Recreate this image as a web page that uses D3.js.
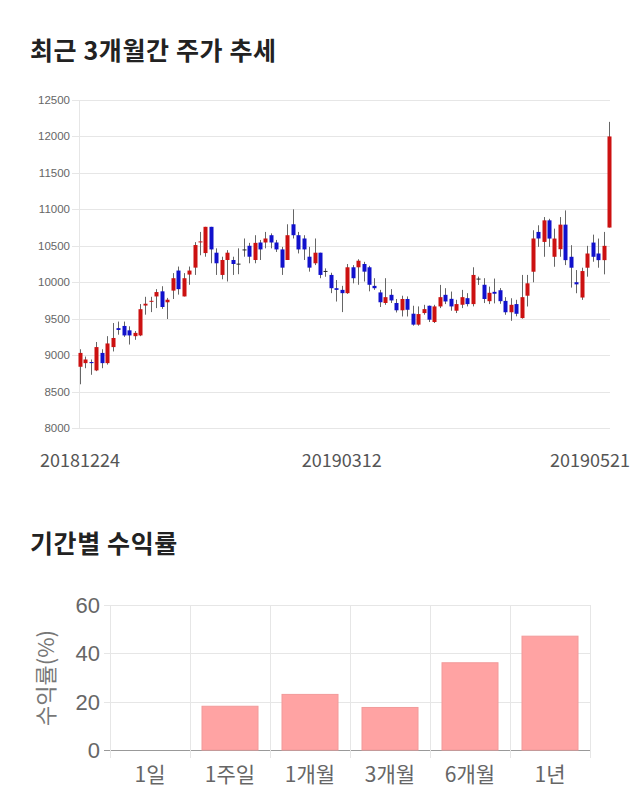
<!DOCTYPE html>
<html><head><meta charset="utf-8">
<script src="https://cdn.jsdelivr.net/npm/d3@7"></script>
<style>
body{margin:0;background:#fff;}
svg{display:block;}
</style></head>
<body>
<svg id="c" width="640" height="810"></svg>
<script>
// ---- data: daily candles (20181224 .. 20190521) ----
const openV  = [8840,8890,8905,8790,9030,8890,9110,9370,9400,9340,9260,9270,9680,9740,9805,9875,9725,9885,10160,9805,
 10105,10200,10555,10400,10760,10405,10100,10305,10305,10255,10450,10500,10305,10545,10545,10645,10545,10450,10305,10795,
 10645,10600,10350,10260,10405,10155,10100,9918,9895,9850,10205,10205,10250,10205,9950,9860,9715,9827,9715,9615,
 9770,9568,9418,9577,9677,9454,9668,9827,9772,9609,9691,9781,9700,10050,9965,9740,9868,9890,9744,9588,
 9700,9508,9815,10144,10690,10553,10849,10349,10453,10790,10349,10000,9790,10199,10544,10394,10303,10750];
const highV  = [9080,8980,8940,9180,9080,9260,9440,9460,9460,9395,9330,9700,9800,9800,9905,9945,9785,10125,10215,10125,
 10215,10550,10690,10760,10760,10465,10350,10440,10350,10465,10600,10540,10645,10580,10690,10670,10580,10485,10795,11000,
 10690,10645,10485,10600,10405,10190,10130,10030,9950,10250,10235,10315,10280,10225,10055,9895,10055,9905,9770,9815,
 9805,9677,9668,9690,9680,9690,9963,9918,9872,9759,9895,9850,10205,10077,10055,9940,10050,9920,9795,9780,
 9759,10100,10100,10713,10781,10894,10870,10735,10894,10985,10508,10167,10199,10499,10653,10599,10690,12200];
const lowV   = [8600,8820,8730,8780,8820,8870,9050,9280,9250,9145,9210,9260,9555,9590,9645,9635,9495,9770,9830,9805,
 9965,10100,10370,10350,10260,10100,10040,10010,10100,10110,10350,10260,10260,10305,10465,10465,10415,10100,10305,10600,
 10395,10305,10145,10235,10055,10075,9850,9735,9590,9840,9985,9965,10010,9875,9895,9660,9690,9715,9585,9530,
 9530,9404,9404,9554,9454,9440,9645,9700,9609,9577,9645,9668,9668,9963,9714,9700,9710,9704,9553,9470,
 9532,9500,9667,9999,10485,10349,10485,10212,10349,10235,9926,9849,9758,10076,10281,10199,10108,10750];
const closeV = [9030,8940,8890,9110,8890,9160,9235,9345,9270,9270,9305,9630,9705,9745,9865,9660,9760,10055,9905,10055,
 10160,10510,10560,10760,10450,10260,10305,10405,10250,10255,10450,10350,10540,10450,10600,10545,10450,10200,10645,10645,
 10450,10450,10200,10405,10100,10155,9918,9895,9850,10205,10055,10295,10145,9965,9918,9725,9795,9750,9615,9770,
 9622,9418,9563,9631,9486,9668,9795,9736,9668,9700,9795,9700,10100,10050,9770,9855,9842,9740,9588,9690,
 9567,9795,9985,10600,10600,10849,10599,10599,10790,10303,10199,9971,10153,10394,10349,10303,10499,12000];
const priceTicks = [8000,8500,9000,9500,10000,10500,11000,11500,12000,12500];
const dateLabels = ["20181224","20190312","20190521"];
const dateLabelIdx = [0,48,97];

// ---- data: period returns ----
const periods = ["1일","1주일","1개월","3개월","6개월","1년"];
const returnsV = [0,18.1,23.0,17.6,36.1,47.1];
const returnTicks = [0,20,40,60];

const svg = d3.select("#c");
const KR = "'Noto Sans CJK KR','Noto Sans',sans-serif";
const AR = "'Liberation Sans',Arial,sans-serif";

// titles
svg.append("text").attr("x",30).attr("y",60).text("최근 3개월간 주가 추세")
  .attr("font-family",KR).attr("font-weight","bold").attr("font-size",25).attr("letter-spacing",0.6).attr("fill","#222");
svg.append("text").attr("x",30).attr("y",553).text("기간별 수익률")
  .attr("font-family",KR).attr("font-weight","bold").attr("font-size",25).attr("letter-spacing",0.6).attr("fill","#222");

// ---- candlestick chart ----
const idx = d3.range(openV.length);
const x = d3.scaleLinear().domain([0, openV.length-1]).range([80, 609]);
const y = d3.scaleLinear().domain([8000,12500]).range([428, 100]);

const g1 = svg.append("g");
g1.selectAll("line.grid").data(priceTicks).join("line")
  .attr("x1",72).attr("x2",610).attr("y1",d=>Math.round(y(d))+0.5).attr("y2",d=>Math.round(y(d))+0.5)
  .attr("stroke","#e6e6e6");
g1.append("line").attr("x1",79.5).attr("x2",79.5).attr("y1",y(12500)).attr("y2",y(8000)).attr("stroke","#e6e6e6");
g1.selectAll("text.yt").data(priceTicks).join("text")
  .attr("x",70).attr("y",d=>y(d)+4).attr("text-anchor","end").text(d=>d)
  .attr("font-family",AR).attr("font-size",11.5).attr("fill","#666");

const col = i => closeV[i]>openV[i] ? "#cc1111" : (closeV[i]<openV[i] ? "#1111cc" : "#222");
g1.selectAll("line.wick").data(idx).join("line")
  .attr("x1",i=>Math.round(x(i))+0.5).attr("x2",i=>Math.round(x(i))+0.5)
  .attr("y1",i=>y(highV[i])).attr("y2",i=>y(lowV[i])).attr("stroke","#666").attr("stroke-width",1);
g1.selectAll("rect.body").data(idx).join("rect")
  .attr("x",i=>Math.round(x(i))-1.5).attr("width",4)
  .attr("y",i=>y(Math.max(openV[i],closeV[i])))
  .attr("height",i=>Math.max(1, Math.abs(y(openV[i])-y(closeV[i]))))
  .attr("fill",i=>col(i));

g1.selectAll("text.xt").data(dateLabels).join("text")
  .attr("y",467).attr("text-anchor","middle").text(d=>d)
  .attr("font-family",KR).attr("font-size",18).attr("fill","#555")
  .attr("x",(d,k)=>x(dateLabelIdx[k]))
  .each(function(){
    const w=this.getComputedTextLength(); const cx=+this.getAttribute("x");
    const nx=Math.min(Math.max(cx, w/2+2), 630-w/2);
    this.setAttribute("x", nx);
  });

// ---- returns bar chart ----
const xb = d3.scaleBand().domain(periods).range([110,590]).paddingInner(0.3).paddingOuter(0.15);
const yb = d3.scaleLinear().domain([0,60]).range([750,605]);
const g2 = svg.append("g");
g2.selectAll("line.hg").data(returnTicks).join("line")
  .attr("x1",104).attr("x2",590).attr("y1",d=>Math.round(yb(d))+0.5).attr("y2",d=>Math.round(yb(d))+0.5)
  .attr("stroke",d=>d===0?"#999":"#e6e6e6");
const bounds = d3.range(periods.length+1);
const bx = k => k<periods.length ? xb(periods[k]) - xb.step()*xb.paddingInner()/2 : 590;
g2.selectAll("line.vg").data(bounds).join("line")
  .attr("x1",k=>Math.round(bx(k))+0.5).attr("x2",k=>Math.round(bx(k))+0.5)
  .attr("y1",yb(60)).attr("y2",yb(0)+8)
  .attr("stroke","#e6e6e6");
g2.selectAll("rect.bar").data(periods).join("rect")
  .attr("x",d=>xb(d)).attr("width",xb.bandwidth())
  .attr("y",(d,k)=>yb(returnsV[k])).attr("height",(d,k)=>yb(0)-yb(returnsV[k]))
  .attr("fill","#ffa3a3").attr("stroke","#f29a9a").attr("stroke-width",1);
g2.selectAll("text.yt").data(returnTicks).join("text")
  .attr("x",100).attr("y",d=>yb(d)+8).attr("text-anchor","end").text(d=>d)
  .attr("font-family",AR).attr("font-size",22).attr("fill","#666");
g2.selectAll("text.xt").data(periods).join("text")
  .attr("x",d=>xb(d)+xb.bandwidth()/2).attr("y",782).attr("text-anchor","middle").text(d=>d)
  .attr("font-family",KR).attr("font-size",21).attr("fill","#666");
svg.append("text").attr("transform","translate(54,678) rotate(-90)").attr("text-anchor","middle")
  .text("수익률(%)").attr("font-family",KR).attr("font-size",22).attr("fill","#777");
</script>
</body></html>
